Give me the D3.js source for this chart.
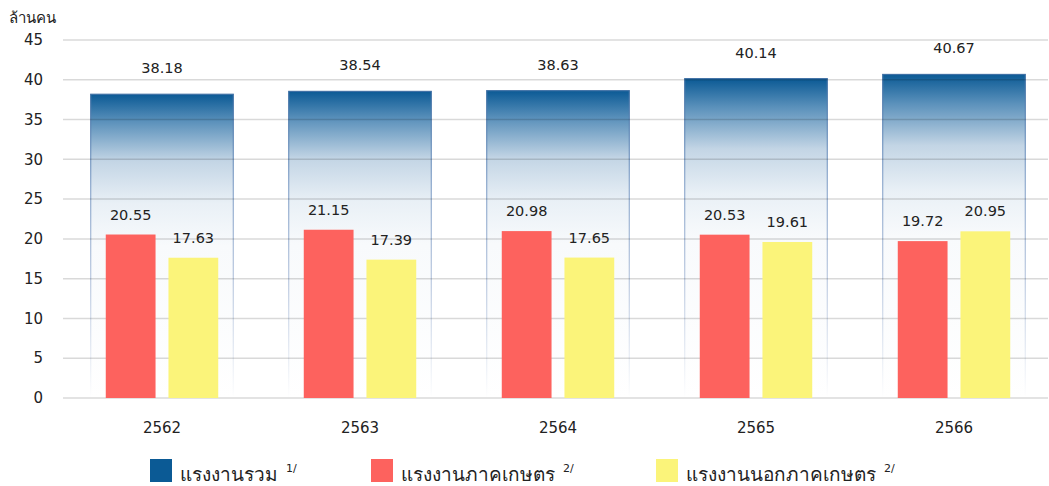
<!DOCTYPE html>
<html>
<head>
<meta charset="utf-8">
<script src="https://cdn.jsdelivr.net/npm/d3@7.9.0/dist/d3.min.js"></script>
<style>
  body { margin: 0; background: #fff; }
  svg { display: block; font-family: Tahoma, "DejaVu Sans", "Noto Sans", sans-serif; }
</style>
</head>
<body>
<svg width="1049" height="486"></svg>
<script>
// data
const years = ['2562', '2563', '2564', '2565', '2566'];
const totalWorkers = [38.18, 38.54, 38.63, 40.14, 40.67];
const agriWorkers = [20.55, 21.15, 20.98, 20.53, 19.72];
const nonAgriWorkers = [17.63, 17.39, 17.65, 19.61, 20.95];
const yTicks = [0, 5, 10, 15, 20, 25, 30, 35, 40, 45];
const legendLabels = ['แรงงานรวม', 'แรงงานภาคเกษตร', 'แรงงานนอกภาคเกษตร'];
const legendNotes = ['1/', '2/', '2/'];

const svg = d3.select('svg');
const colors = ['#0b5a95', '#fd625e', '#fbf47a'];

let x = d3.scaleBand().domain(years).range([63, 1053]).paddingInner(0.28).paddingOuter(0.14);
let inner = d3.scaleBand().domain(['agri', 'nonagri']).range([0, x.bandwidth()]).paddingInner(0.206).paddingOuter(0.24);
let y = d3.scaleLinear().domain([0, 45]).range([398, 40]);

// gradient for the total bars (dark blue on top, white by the middle)
let defs = svg.append('defs');
let grad = defs.append('linearGradient').attr('id', 'totalFill').attr('x1', 0).attr('y1', 0).attr('x2', 0).attr('y2', 1);
[[0, '#0b5a95'], [0.09, '#5b91bb'], [0.22, '#c3d5e5'], [0.36, '#e9f0f6'], [0.5, '#f8fafc'], [1, '#ffffff']]
  .forEach(([o, c]) => grad.append('stop').attr('offset', o).attr('stop-color', c));
let gradStroke = defs.append('linearGradient').attr('id', 'totalStroke').attr('x1', 0).attr('y1', 0).attr('x2', 0).attr('y2', 1);
[[0, '#3f70a5'], [0.3, '#8aa6cb'], [0.6, '#b7c6de'], [1, '#ffffff']]
  .forEach(([o, c]) => gradStroke.append('stop').attr('offset', o).attr('stop-color', c));

// total bars
svg.append('g').selectAll('rect').data(years).join('rect')
  .attr('x', d => x(d))
  .attr('y', (d, i) => y(totalWorkers[i]))
  .attr('width', x.bandwidth())
  .attr('height', (d, i) => y(0) - y(totalWorkers[i]))
  .attr('fill', 'url(#totalFill)')
  .attr('stroke', 'url(#totalStroke)')
  .attr('stroke-width', 1.2);

// gridlines, drawn over the total bars
svg.append('g').selectAll('line').data(yTicks).join('line')
  .attr('x1', 63).attr('x2', 1048)
  .attr('y1', d => y(d)).attr('y2', d => y(d))
  .attr('stroke', 'rgba(0,0,0,0.15)')
  .attr('stroke-width', 1.5);

// y tick labels
svg.append('g').selectAll('text').data(yTicks).join('text')
  .attr('x', 43).attr('y', d => y(d))
  .attr('dy', '0.35em')
  .attr('text-anchor', 'end')
  .attr('font-size', 15)
  .attr('fill', '#222')
  .text(d => d);

svg.append('text').attr('x', 9).attr('y', 23).attr('font-size', 15).attr('fill', '#222').text('ล้านคน');

// agri and non-agri bars
const sub = [
  { key: 'agri', values: agriWorkers, color: colors[1] },
  { key: 'nonagri', values: nonAgriWorkers, color: colors[2] },
];
sub.forEach(s => {
  svg.append('g').selectAll('rect').data(years).join('rect')
    .attr('x', d => x(d) + inner(s.key))
    .attr('y', (d, i) => y(s.values[i]))
    .attr('width', inner.bandwidth())
    .attr('height', (d, i) => y(0) - y(s.values[i]))
    .attr('fill', s.color);
  svg.append('g').selectAll('text').data(years).join('text')
    .attr('x', d => x(d) + inner(s.key) + inner.bandwidth() / 2)
    .attr('y', (d, i) => y(s.values[i]) - 15)
    .attr('text-anchor', 'middle')
    .attr('font-size', 14.5)
    .attr('fill', '#222')
    .text((d, i) => s.values[i].toFixed(2));
});

// total labels
svg.append('g').selectAll('text').data(years).join('text')
  .attr('x', d => x(d) + x.bandwidth() / 2)
  .attr('y', (d, i) => y(totalWorkers[i]) - 21)
  .attr('text-anchor', 'middle')
  .attr('font-size', 14.5)
  .attr('fill', '#222')
  .text((d, i) => totalWorkers[i].toFixed(2));

// x labels
svg.append('g').selectAll('text').data(years).join('text')
  .attr('x', d => x(d) + x.bandwidth() / 2)
  .attr('y', 433)
  .attr('text-anchor', 'middle')
  .attr('font-size', 15)
  .attr('fill', '#222')
  .text(d => d);

// legend
const legendX = [150, 371, 656];
legendLabels.forEach((label, i) => {
  let g = svg.append('g').attr('transform', `translate(${legendX[i]},459)`);
  g.append('rect').attr('width', 22).attr('height', 23).attr('fill', colors[i]);
  let t = g.append('text').attr('x', 30).attr('y', 22).attr('font-size', 19).attr('fill', '#222');
  t.append('tspan').text(label);
  t.append('tspan').attr('dx', 8).attr('dy', -9).attr('font-size', 11).text(legendNotes[i]);
});
</script>
</body>
</html>
